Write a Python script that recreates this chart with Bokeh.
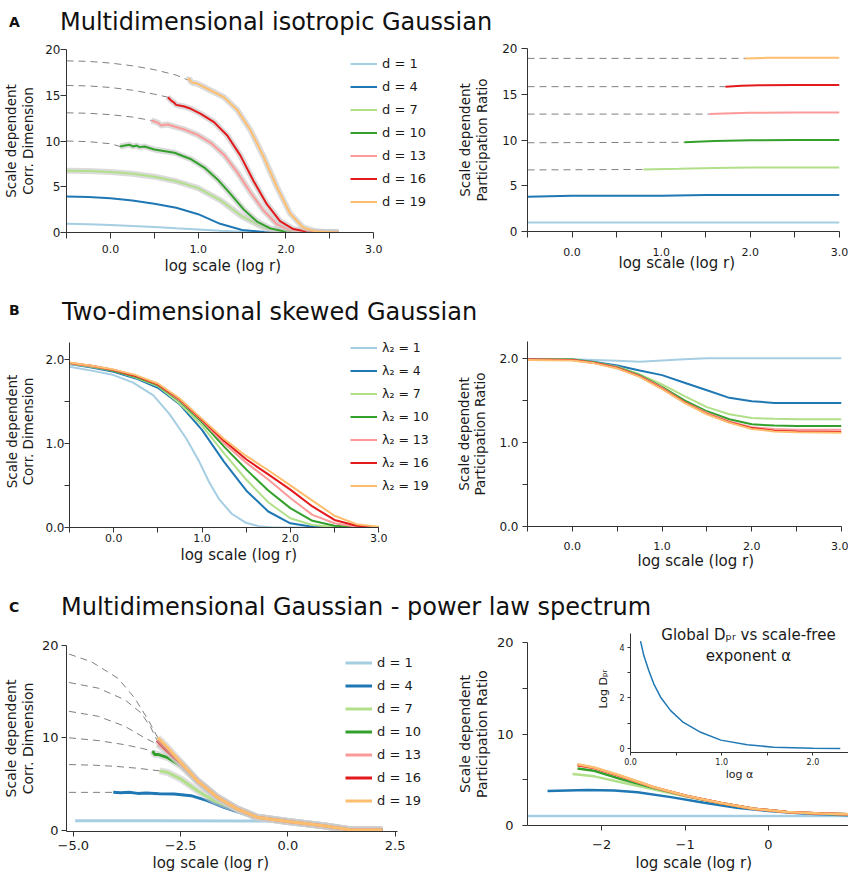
from bokeh.plotting import figure
from bokeh.layouts import row, column
from bokeh.models import FixedTicker, Legend, LegendItem, Div, Label, Range1d, Title
from bokeh.embed import file_html
from bokeh.resources import INLINE

FONT = "DejaVu Sans"
PAIRED = ["#a6cee3", "#1f78b4", "#b2df8a", "#33a02c", "#fb9a99", "#e31a1c", "#fdbf6f"]
D_LABELS = ["d = 1", "d = 4", "d = 7", "d = 10", "d = 13", "d = 16", "d = 19"]
LAMBDA_LABELS = ["λ₂ = 1", "λ₂ = 4", "λ₂ = 7", "λ₂ = 10", "λ₂ = 13", "λ₂ = 16", "λ₂ = 19"]
LETTERS = ["A", "B", "C"]
TITLES = ["Multidimensional isotropic Gaussian",
          "Two-dimensional skewed Gaussian",
          "Multidimensional Gaussian - power law spectrum"]
X_LABEL = "log scale (log r)"
Y_LABEL_CD = "Scale dependent\nCorr. Dimension"
Y_LABEL_PR = "Scale dependent\nParticipation Ratio"
INSET_TITLE = "Global Dₚᵣ vs scale-free\nexponent α"
INSET_XLABEL = "log α"
INSET_YLABEL = "Log Dₚᵣ"

# ---- ticks ----
AB_XTICKS = [-0.5, 0.0, 0.5, 1.0, 1.5, 2.0, 2.5, 3.0]
AB_XTICK_LABELS = ["", "0.0", "", "1.0", "", "2.0", "", "3.0"]
A_YTICKS = [0, 5, 10, 15, 20]
A_YTICK_LABELS = ["0", "5", "10", "15", "20"]
B_YTICKS = [0.0, 0.5, 1.0, 1.5, 2.0]
B_YTICK_LABELS = ["0.0", "", "1.0", "", "2.0"]
CL_XTICKS = [-5.0, -2.5, 0.0, 2.5]
CL_XTICK_LABELS = ["−5.0", "−2.5", "0.0", "2.5"]
CL_YTICKS = [0, 10, 20]
CL_YTICK_LABELS = ["0", "10", "20"]
CR_XTICKS = [-2, -1, 0]
CR_XTICK_LABELS = ["−2", "−1", "0"]
CR_YTICKS = [0, 5, 10, 15, 20]
CR_YTICK_LABELS = ["0", "", "10", "", "20"]
IN_XTICKS = [0.0, 0.5, 1.0, 1.5, 2.0]
IN_XTICK_LABELS = ["0.0", "", "1.0", "", "2.0"]
IN_YTICKS = [0, 1, 2, 3, 4]
IN_YTICK_LABELS = ["0", "", "2", "", "4"]

# ---- Panel A left: correlation dimension ----
A_L_X1 = [-0.5, -0.25, 0, 0.25, 0.5, 0.75, 1.0, 1.25, 1.5, 1.75, 2.0, 2.3, 2.6]
A_L_Y1 = [0.95, 0.9, 0.82, 0.72, 0.6, 0.46, 0.33, 0.2, 0.09, 0.03, 0.0, 0.0, 0.0]
A_L_X4 = [-0.5, -0.25, 0, 0.25, 0.5, 0.75, 1.0, 1.25, 1.5, 1.75, 2.0, 2.3, 2.6]
A_L_Y4 = [3.93, 3.88, 3.75, 3.5, 3.15, 2.7, 2.0, 0.95, 0.27, 0.05, 0.0, 0.0, 0.0]
A_L_X7 = [-0.5, -0.25, 0, 0.25, 0.5, 0.75, 1.0, 1.25, 1.5, 1.75, 2.0, 2.25, 2.6]
A_L_Y7 = [6.75, 6.72, 6.62, 6.42, 6.1, 5.6, 4.85, 3.55, 1.75, 0.5, 0.1, 0.01, 0.0]
A_L_X10 = [0.11, 0.165, 0.22, 0.26, 0.30, 0.33, 0.39, 0.5, 0.73, 0.92, 1.07, 1.22, 1.37, 1.52, 1.67, 1.82, 1.97, 2.2, 2.6]
A_L_Y10 = [9.4, 9.51, 9.58, 9.4, 9.51, 9.33, 9.4, 9.07, 8.71, 8.0, 7.1, 5.8, 4.2, 2.5, 1.2, 0.45, 0.14, 0.02, 0.0]
A_L_X13 = [0.466, 0.504, 0.541, 0.579, 0.617, 0.654, 0.729, 0.842, 0.992, 1.143, 1.293, 1.444, 1.594, 1.744, 1.895, 2.045, 2.195, 2.6]
A_L_Y13 = [12.24, 12.13, 11.99, 11.69, 11.77, 11.80, 11.58, 11.26, 10.67, 9.8, 8.5, 6.6, 4.4, 2.4, 0.9, 0.28, 0.07, 0.0]
A_L_X16 = [0.654, 0.692, 0.729, 0.748, 0.786, 0.842, 0.917, 1.030, 1.180, 1.331, 1.481, 1.632, 1.782, 1.932, 2.083, 2.233, 2.6]
A_L_Y16 = [14.79, 14.43, 14.17, 13.95, 13.88, 13.77, 13.52, 12.97, 12.06, 10.6, 8.4, 5.6, 3.1, 1.25, 0.38, 0.1, 0.0]
A_L_X19 = [0.880, 0.898, 0.917, 0.936, 0.974, 1.030, 1.143, 1.293, 1.444, 1.594, 1.744, 1.895, 2.045, 2.195, 2.346, 2.6]
A_L_Y19 = [16.68, 16.79, 16.50, 16.36, 16.32, 16.07, 15.52, 14.79, 13.4, 11.2, 8.3, 5.0, 2.1, 0.55, 0.1, 0.0]
A_L_DASH_X10 = [-0.5, -0.25, 0.0, 0.11]
A_L_DASH_Y10 = [10.0, 9.93, 9.7, 9.4]
A_L_DASH_X13 = [-0.5, -0.25, 0.0, 0.25, 0.466]
A_L_DASH_Y13 = [13.08, 13.03, 12.88, 12.62, 12.24]
A_L_DASH_X16 = [-0.5, -0.25, 0.0, 0.25, 0.5, 0.654]
A_L_DASH_Y16 = [16.07, 16.02, 15.85, 15.55, 15.12, 14.79]
A_L_DASH_X19 = [-0.5, -0.25, 0.0, 0.25, 0.5, 0.75, 0.88]
A_L_DASH_Y19 = [18.76, 18.7, 18.52, 18.22, 17.8, 17.2, 16.68]

# ---- Panel A right: participation ratio ----
A_R_X1 = [-0.5, 3.0]
A_R_Y1 = [0.99, 0.99]
A_R_X4 = [-0.5, 0.0, 0.5, 1.0, 1.5, 2.0, 2.5, 3.0]
A_R_Y4 = [3.8, 3.9, 3.92, 3.92, 3.98, 4.0, 4.0, 4.0]
A_R_X7 = [0.8, 1.2, 1.6, 2.0, 2.5, 3.0]
A_R_Y7 = [6.78, 6.85, 6.95, 7.0, 7.0, 7.0]
A_R_X10 = [1.26, 1.6, 2.0, 2.5, 3.0]
A_R_Y10 = [9.75, 9.9, 9.98, 10.0, 10.0]
A_R_X13 = [1.54, 1.8, 2.0, 2.5, 3.0]
A_R_Y13 = [12.83, 12.93, 12.98, 13.0, 13.0]
A_R_X16 = [1.72, 1.9, 2.1, 2.5, 3.0]
A_R_Y16 = [15.83, 15.93, 15.98, 16.0, 16.0]
A_R_X19 = [1.94, 2.2, 2.5, 3.0]
A_R_Y19 = [18.92, 18.98, 19.0, 19.0]
A_R_DASH_X7 = [-0.5, 0.8]
A_R_DASH_Y7 = [6.73, 6.78]
A_R_DASH_X10 = [-0.5, 1.26]
A_R_DASH_Y10 = [9.7, 9.75]
A_R_DASH_X13 = [-0.5, 1.54]
A_R_DASH_Y13 = [12.83, 12.83]
A_R_DASH_X16 = [-0.5, 1.72]
A_R_DASH_Y16 = [15.83, 15.83]
A_R_DASH_X19 = [-0.5, 1.94]
A_R_DASH_Y19 = [18.92, 18.92]

# ---- Panel B left ----
B_L_X1 = [-0.5, -0.22, 0, 0.22, 0.45, 0.63, 0.82, 0.97, 1.08, 1.19, 1.34, 1.49, 1.64, 1.8, 3.0]
B_L_Y1 = [1.909, 1.857, 1.81, 1.72, 1.57, 1.35, 1.06, 0.78, 0.54, 0.34, 0.16, 0.06, 0.016, 0.0, 0.0]
B_L_X = [-0.5, -0.25, 0, 0.25, 0.5, 0.75, 1.0, 1.25, 1.5, 1.75, 2.0, 2.25, 2.5, 2.75, 3.0]
B_L_Y4 = [1.94, 1.90, 1.85, 1.77, 1.66, 1.46, 1.16, 0.78, 0.44, 0.19, 0.05, 0.01, 0, 0, 0]
B_L_Y7 = [1.945, 1.91, 1.86, 1.78, 1.68, 1.47, 1.21, 0.88, 0.57, 0.30, 0.11, 0.03, 0.005, 0, 0]
B_L_Y10 = [1.95, 1.915, 1.86, 1.79, 1.69, 1.50, 1.25, 0.96, 0.69, 0.44, 0.23, 0.08, 0.02, 0.005, 0]
B_L_Y13 = [1.95, 1.915, 1.87, 1.80, 1.70, 1.51, 1.27, 1.0, 0.77, 0.57, 0.35, 0.15, 0.05, 0.01, 0]
B_L_Y16 = [1.955, 1.92, 1.87, 1.80, 1.70, 1.52, 1.28, 1.03, 0.81, 0.63, 0.45, 0.25, 0.09, 0.02, 0]
B_L_Y19 = [1.96, 1.92, 1.875, 1.81, 1.71, 1.53, 1.29, 1.05, 0.85, 0.68, 0.50, 0.32, 0.14, 0.04, 0.01]

# ---- Panel B right ----
B_R_X = [-0.5, 0, 0.25, 0.5, 0.75, 1.0, 1.25, 1.5, 1.75, 2.0, 2.25, 2.5, 3.0]
B_R_Y1 = [1.99, 1.99, 1.98, 1.97, 1.96, 1.975, 1.99, 2.0, 2.0, 2.0, 2.0, 2.0, 2.0]
B_R_Y4 = [1.985, 1.985, 1.955, 1.915, 1.855, 1.80, 1.71, 1.62, 1.53, 1.49, 1.47, 1.47, 1.47]
B_R_Y7 = [1.985, 1.985, 1.95, 1.90, 1.81, 1.69, 1.55, 1.42, 1.335, 1.29, 1.28, 1.275, 1.275]
B_R_Y10 = [1.985, 1.985, 1.95, 1.895, 1.80, 1.66, 1.50, 1.37, 1.275, 1.215, 1.20, 1.195, 1.195]
B_R_Y13 = [1.985, 1.98, 1.945, 1.89, 1.79, 1.65, 1.48, 1.35, 1.25, 1.18, 1.16, 1.15, 1.15]
B_R_Y16 = [1.985, 1.98, 1.945, 1.885, 1.785, 1.64, 1.475, 1.34, 1.24, 1.17, 1.14, 1.13, 1.125]
B_R_Y19 = [1.98, 1.975, 1.94, 1.88, 1.78, 1.635, 1.47, 1.335, 1.235, 1.16, 1.13, 1.12, 1.115]

# ---- Panel C left ----
C_L_X1 = [-4.96, -3.0, -1.0, 0.0, 0.5, 1.0, 1.45, 2.2]
C_L_Y1 = [1.02, 1.02, 1.0, 0.95, 0.78, 0.5, 0.05, 0.0]
C_L_X4 = [-4.07, -3.9, -3.7, -3.5, -3.3, -3.0, -2.65, -2.26, -1.88, -1.49, -1.03, -0.56, 0.0, 0.67, 1.29, 1.45, 2.2]
C_L_Y4 = [4.09, 4.05, 4.1, 3.98, 4.02, 3.95, 3.9, 3.73, 3.19, 2.47, 1.76, 1.22, 0.93, 0.5, 0.07, 0.0, 0.0]
C_L_X7 = [-2.99, -2.8, -2.49, -2.11, -1.72, -1.4, -1.18, -0.72, 0.0, 0.83, 1.44, 2.2]
C_L_Y7 = [6.42, 6.24, 5.52, 4.27, 3.19, 2.6, 2.29, 1.40, 0.93, 0.47, 0.04, 0.0]
C_L_X10 = [-3.15, -3.11, -3.03, -2.8, -2.49, -2.11, -1.64, -1.18, -0.72, 0.0, 0.83, 1.44, 2.2]
C_L_Y10 = [8.57, 8.2, 8.2, 7.85, 6.95, 5.3, 3.5, 2.29, 1.40, 0.93, 0.47, 0.04, 0.0]
C_L_X13 = [-3.03, -2.88, -2.65, -2.26, -2.11, -1.64, -1.18, -0.72, 0.0, 0.83, 1.44, 2.2]
C_L_Y13 = [9.28, 8.75, 7.85, 6.06, 5.34, 3.55, 2.29, 1.40, 0.93, 0.47, 0.04, 0.0]
C_L_X16 = [-3.05, -2.88, -2.65, -2.49, -2.11, -1.64, -1.18, -0.72, 0.0, 0.83, 1.44, 2.2]
C_L_Y16 = [9.71, 8.92, 7.85, 7.25, 5.34, 3.55, 2.29, 1.40, 0.93, 0.47, 0.04, 0.0]
C_L_X19 = [-3.03, -2.80, -2.49, -2.11, -1.64, -1.18, -0.72, 0.0, 0.83, 1.44, 2.2]
C_L_Y19 = [10.0, 8.92, 7.31, 5.34, 3.55, 2.29, 1.40, 0.93, 0.47, 0.04, 0.0]
C_L_DASH_X4 = [-5.1, -4.07]
C_L_DASH_Y4 = [4.09, 4.09]
C_L_DASH_X7 = [-5.1, -4.5, -4.0, -3.5, -2.99]
C_L_DASH_Y7 = [7.1, 7.03, 6.9, 6.7, 6.42]
C_L_DASH_X10 = [-5.1, -4.42, -3.8, -3.4, -3.15]
C_L_DASH_Y10 = [10.0, 9.7, 9.25, 8.85, 8.57]
C_L_DASH_X13 = [-5.1, -4.42, -3.8, -3.34, -3.03]
C_L_DASH_Y13 = [12.87, 12.33, 11.25, 10.0, 9.28]
C_L_DASH_X16 = [-5.1, -4.42, -3.8, -3.42, -3.19, -3.05]
C_L_DASH_Y16 = [15.99, 15.38, 14.12, 12.69, 11.08, 9.71]
C_L_DASH_X19 = [-5.1, -4.58, -3.96, -3.57, -3.26, -3.03]
C_L_DASH_Y19 = [19.07, 18.24, 16.45, 14.3, 11.97, 10.0]

# ---- Panel C right ----
C_R_X1 = [-2.89, 0.96]
C_R_Y1 = [1.05, 1.05]
C_R_X4 = [-2.65, -2.17, -1.85, -1.57, -1.17, -0.77, -0.38, 0.0, 0.42, 0.96]
C_R_Y4 = [3.78, 3.89, 3.82, 3.64, 3.1, 2.49, 1.95, 1.59, 1.30, 1.12]
C_R_X7 = [-2.35, -2.09, -1.77, -1.37, -0.97, -0.57, -0.18, 0.22, 0.62, 0.96]
C_R_Y7 = [5.62, 5.37, 4.72, 3.93, 3.15, 2.43, 1.83, 1.47, 1.29, 1.22]
C_R_XS = [-2.29, -2.09, -1.77, -1.37, -0.97, -0.57, -0.18, 0.22, 0.62, 0.96]
C_R_Y10 = [6.23, 5.98, 5.08, 4.1, 3.19, 2.44, 1.84, 1.48, 1.30, 1.23]
C_R_Y13 = [6.55, 6.25, 5.35, 4.15, 3.2, 2.45, 1.84, 1.48, 1.30, 1.23]
C_R_Y16 = [6.62, 6.3, 5.4, 4.17, 3.21, 2.45, 1.84, 1.48, 1.30, 1.23]
C_R_Y19 = [6.70, 6.34, 5.44, 4.18, 3.21, 2.45, 1.84, 1.48, 1.30, 1.23]

# ---- Inset: global D_PR vs exponent ----
INSET_X = [0.11, 0.146, 0.2, 0.255, 0.33, 0.44, 0.58, 0.77, 0.99, 1.28, 1.57, 2.0, 2.3]
INSET_Y = [4.25, 3.68, 3.09, 2.56, 2.03, 1.50, 1.03, 0.64, 0.33, 0.146, 0.05, 0.013, 0.0]

AXIS_COLOR = "#333333"
TEXT_COLOR = "#1a1a1a"
BAND = "#cccccc"
DASH = "7 5"


def make_panel(xr, yr, mb, xticks, xtl, yticks, ytl, ylabel,
               xtick_size, ytick_size, ylab_size, x_std, y_std,
               tick_out=5, xbounds=None, ybounds=None, width=None, height=None, xlabel=None):
    p = figure(x_range=Range1d(*xr), y_range=Range1d(*yr), title=None,
               width=width, height=height,
               output_backend="svg", toolbar_location=None,
               min_border_left=mb[0], min_border_right=mb[1],
               min_border_top=mb[2], min_border_bottom=mb[3])
    p.frame_align = False
    p.grid.visible = False
    p.outline_line_color = None
    for ax, ticks, labels, tsize, std in ((p.xaxis[0], xticks, xtl, xtick_size, x_std),
                                          (p.yaxis[0], yticks, ytl, ytick_size, y_std)):
        ax.ticker = FixedTicker(ticks=ticks)
        ax.major_label_overrides = {float(t): l for t, l in zip(ticks, labels)}
        ax.axis_line_color = AXIS_COLOR
        ax.major_tick_line_color = AXIS_COLOR
        ax.major_tick_in = 0
        ax.major_tick_out = tick_out
        ax.minor_tick_line_color = None
        ax.major_label_text_font = FONT
        ax.major_label_text_font_size = tsize
        ax.major_label_text_color = TEXT_COLOR
        ax.major_label_text_line_height = 1.0
        ax.major_label_standoff = std[0]
        ax.axis_label_text_font = FONT
        ax.axis_label_text_font_style = "normal"
        ax.axis_label_text_font_size = ylab_size
        ax.axis_label_text_color = TEXT_COLOR
        ax.axis_label_standoff = std[1]
        ax.axis_label_text_line_height = 1.05
    if xbounds is not None:
        p.xaxis[0].bounds = xbounds
    if ybounds is not None:
        p.yaxis[0].bounds = ybounds
    p.yaxis.axis_label = ylabel
    if xlabel is not None:
        p.xaxis.axis_label = xlabel
    return p


def add_xlabel(p, offset, standoff):
    # x-axis caption, placed below the axis with its own horizontal offset
    t = Title(text=X_LABEL, align="left", offset=offset, standoff=standoff,
              vertical_align="middle", text_font=FONT, text_font_size="15px",
              text_font_style="normal", text_color=TEXT_COLOR, text_line_height=1.0)
    p.add_layout(t, "below")


def add_legend(p, renderers, labels, loc, size="13px"):
    items = [LegendItem(label=l, renderers=[r]) for l, r in zip(labels, renderers)]
    lg = Legend(items=items, location=loc, glyph_width=27, glyph_height=21, label_height=21,
                spacing=2, padding=0, margin=0, label_standoff=5,
                border_line_alpha=0, background_fill_alpha=0,
                label_text_font=FONT, label_text_font_size=size, label_text_color=TEXT_COLOR)
    p.add_layout(lg)


def title_div(letter, text, height, letter_top, title_top, title_left):
    html = ('<div style="position:relative;width:840px;height:%dpx;font-family:\'DejaVu Sans\';color:#111;">'
            '<span style="position:absolute;left:9px;top:%dpx;font-size:14px;font-weight:bold;line-height:normal;">%s</span>'
            '<span style="position:absolute;left:%dpx;top:%dpx;font-size:24px;line-height:normal;white-space:nowrap;">%s</span>'
            '</div>') % (height, letter_top, letter, title_left, title_top, text)
    return Div(text=html, width=840, height=height, margin=(0, 0, 0, 0))


# ================= Panel A =================
aL = make_panel((-0.5, 3.68), (0, 20), (62, 15, 9, 55),
                AB_XTICKS, AB_XTICK_LABELS, A_YTICKS, A_YTICK_LABELS, Y_LABEL_CD,
                "11px", "12px", "13.5px", (6, 0), (0, 6), tick_out=6,
                xbounds=(-0.5, 3.0), width=448, height=247)
add_xlabel(aL, 98, 1)
for xs, ys in ((A_L_DASH_X10, A_L_DASH_Y10), (A_L_DASH_X13, A_L_DASH_Y13),
               (A_L_DASH_X16, A_L_DASH_Y16), (A_L_DASH_X19, A_L_DASH_Y19)):
    aL.line(xs, ys, color="#808080", line_width=1, line_dash=DASH)
a_series = [(A_L_X1, A_L_Y1), (A_L_X4, A_L_Y4), (A_L_X7, A_L_Y7), (A_L_X10, A_L_Y10),
            (A_L_X13, A_L_Y13), (A_L_X16, A_L_Y16), (A_L_X19, A_L_Y19)]
a_rends = []
for i, (xs, ys) in enumerate(a_series):
    if i >= 2:
        aL.line(xs, ys, color=BAND, line_width=6, line_alpha=0.7)
    a_rends.append(aL.line(xs, ys, color=PAIRED[i], line_width=2))
add_legend(aL, a_rends, D_LABELS, (284, 20))

aR = make_panel((-0.5, 3.0), (0, 20), (79, 9, 8, 56),
                AB_XTICKS, AB_XTICK_LABELS, A_YTICKS, A_YTICK_LABELS, Y_LABEL_PR,
                "11px", "12px", "13.5px", (10, 0), (4, 9), tick_out=6, width=400, height=247)
add_xlabel(aR, 91, -11)
for xs, ys in ((A_R_DASH_X7, A_R_DASH_Y7), (A_R_DASH_X10, A_R_DASH_Y10), (A_R_DASH_X13, A_R_DASH_Y13),
               (A_R_DASH_X16, A_R_DASH_Y16), (A_R_DASH_X19, A_R_DASH_Y19)):
    aR.line(xs, ys, color="#808080", line_width=1, line_dash=DASH)
ar_series = [(A_R_X1, A_R_Y1), (A_R_X4, A_R_Y4), (A_R_X7, A_R_Y7), (A_R_X10, A_R_Y10),
             (A_R_X13, A_R_Y13), (A_R_X16, A_R_Y16), (A_R_X19, A_R_Y19)]
for i, (xs, ys) in enumerate(ar_series):
    aR.line(xs, ys, color=PAIRED[i], line_width=2)

# ================= Panel B =================
bL = make_panel((-0.5, 3.70), (0, 2.28), (63, 8, 5, 50),
                AB_XTICKS, AB_XTICK_LABELS, B_YTICKS, B_YTICK_LABELS, Y_LABEL_CD,
                "11px", "12px", "13.5px", (1, 0), (0, 6), tick_out=5,
                xbounds=(-0.5, 3.0), ybounds=(0, 2.2), width=448, height=247)
add_xlabel(bL, 111, 1)
b_series = [(B_L_X1, B_L_Y1), (B_L_X, B_L_Y4), (B_L_X, B_L_Y7), (B_L_X, B_L_Y10),
            (B_L_X, B_L_Y13), (B_L_X, B_L_Y16), (B_L_X, B_L_Y19)]
b_rends = []
for i, (xs, ys) in enumerate(b_series):
    b_rends.append(bL.line(xs, ys, color=PAIRED[i], line_width=2))
add_legend(bL, b_rends, LAMBDA_LABELS, (281, 31), size="12.5px")

bR = make_panel((-0.5, 3.0), (0, 2.2), (79, 7, 11, 51),
                AB_XTICKS, AB_XTICK_LABELS, B_YTICKS, B_YTICK_LABELS, Y_LABEL_PR,
                "11px", "12px", "13.5px", (10, 0), (4, 8), tick_out=5, width=400, height=247)
add_xlabel(bR, 110, -4)
for i, ys in enumerate([B_R_Y1, B_R_Y4, B_R_Y7, B_R_Y10, B_R_Y13, B_R_Y16, B_R_Y19]):
    bR.line(B_R_X, ys, color=PAIRED[i], line_width=2)

# ================= Panel C =================
cL = make_panel((-5.16, 3.3), (-0.15, 20), (63, 19, 20, 42),
                CL_XTICKS, CL_XTICK_LABELS, CL_YTICKS, CL_YTICK_LABELS, Y_LABEL_CD,
                "13px", "13px", "14px", (4, 0), (3, 3), tick_out=5,
                xbounds=(-5.16, 2.55), width=448, height=248)
add_xlabel(cL, 86, 1)
for xs, ys in ((C_L_DASH_X4, C_L_DASH_Y4), (C_L_DASH_X7, C_L_DASH_Y7), (C_L_DASH_X10, C_L_DASH_Y10),
               (C_L_DASH_X13, C_L_DASH_Y13), (C_L_DASH_X16, C_L_DASH_Y16), (C_L_DASH_X19, C_L_DASH_Y19)):
    cL.line(xs, ys, color="#808080", line_width=1, line_dash=DASH)
c_series = [(C_L_X1, C_L_Y1), (C_L_X4, C_L_Y4), (C_L_X7, C_L_Y7), (C_L_X10, C_L_Y10),
            (C_L_X13, C_L_Y13), (C_L_X16, C_L_Y16), (C_L_X19, C_L_Y19)]
c_rends = []
for i, (xs, ys) in enumerate(c_series):
    if i >= 2:
        cL.line(xs, ys, color=BAND, line_width=7, line_alpha=0.6)
    c_rends.append(cL.line(xs, ys, color=PAIRED[i], line_width=3))
add_legend(cL, c_rends, D_LABELS, (279, 20))

cR = make_panel((-2.89, 0.96), (0, 20), (79, 0, 17, 46),
                CR_XTICKS, CR_XTICK_LABELS, CR_YTICKS, CR_YTICK_LABELS, Y_LABEL_PR,
                "13px", "13px", "14px", (9, 0), (9, 4), tick_out=5, width=400, height=248)
add_xlabel(cR, 108, 2)
cr_series = [(C_R_X1, C_R_Y1), (C_R_X4, C_R_Y4), (C_R_X7, C_R_Y7), (C_R_XS, C_R_Y10),
             (C_R_XS, C_R_Y13), (C_R_XS, C_R_Y16), (C_R_XS, C_R_Y19)]
for i, (xs, ys) in enumerate(cr_series):
    cR.line(xs, ys, color=PAIRED[i], line_width=2.5)

# inset
ins = make_panel((0.0, 2.39), (-0.16, 4.87), (40, 0, 0, 33),
                 IN_XTICKS, IN_XTICK_LABELS, IN_YTICKS, IN_YTICK_LABELS, INSET_YLABEL,
                 "8px", "8px", "11px", (2, 0), (3, 6), tick_out=3, ybounds=(-0.16, 4.54),
                 width=258, height=160, xlabel=INSET_XLABEL)
ins.background_fill_alpha = 0
ins.border_fill_alpha = 0
ins.line(INSET_X, INSET_Y, color=PAIRED[1], line_width=1.5)
ins.add_layout(Label(x=118, y=127, x_units="screen", y_units="screen", text=INSET_TITLE,
                     text_align="center", text_baseline="top", text_font=FONT,
                     text_font_size="15px", text_color=TEXT_COLOR, text_line_height=1.2))
ins.margin = (0, 0, 0, -258)

divA = title_div(LETTERS[0], TITLES[0], 40, 14, 8, 60)
divB = title_div(LETTERS[1], TITLES[1], 43, 15, 11, 62)
divC = title_div(LETTERS[2], TITLES[2], 48, 22, 16, 61)

layout = column(divA, row(aL, aR), divB, row(bL, bR), divC, row(cL, cR, ins))
layout.margin = (0, 0, 0, 0)
p = layout
open("out.html", "w").write(file_html(p, INLINE))
